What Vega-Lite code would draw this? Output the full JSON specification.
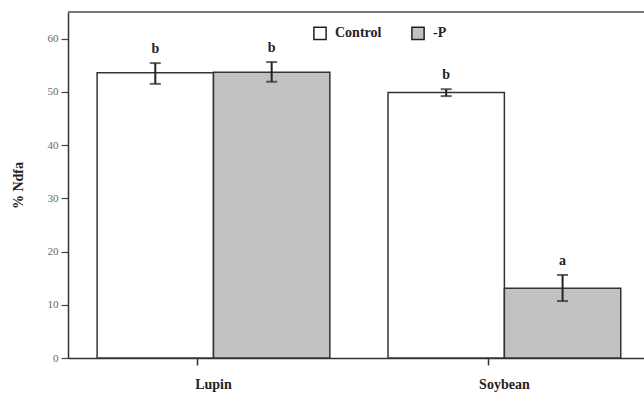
{
  "$schema": "https://vega.github.io/schema/vega-lite/v6.json",
  "autosize": {"type": "none"},
  "width": 576,
  "height": 346,
  "padding": {"left": 68, "top": 12, "right": 0, "bottom": 36},
  "background": "white",
  "config": {
    "view": {"stroke": null},
    "font": "Liberation Serif"
  },
  "datasets": {
    "bars": [
      {"crop": "Lupin", "treatment": "Control", "value": 53.6, "lower": 51.5, "upper": 55.4, "letter": "b"},
      {"crop": "Lupin", "treatment": "-P", "value": 53.7, "lower": 51.9, "upper": 55.6, "letter": "b"},
      {"crop": "Soybean", "treatment": "Control", "value": 49.9, "lower": 49.2, "upper": 50.5, "letter": "b"},
      {"crop": "Soybean", "treatment": "-P", "value": 13.1, "lower": 10.7, "upper": 15.6, "letter": "a"}
    ],
    "frame": [{"top": 65}]
  },
  "layer": [
    {
      "data": {"name": "bars"},
      "encoding": {
        "x": {
          "field": "crop",
          "type": "nominal",
          "sort": ["Lupin", "Soybean"],
          "scale": {"paddingInner": 0.2, "paddingOuter": 0.09, "align": 0.556},
          "axis": {
            "title": null,
            "labelAngle": 0,
            "labelFont": "Liberation Serif",
            "labelFontWeight": "bold",
            "labelFontSize": 14,
            "labelColor": "#222",
            "labelPadding": 12,
            "tickSize": 7,
            "tickColor": "#333",
            "tickWidth": 1.5,
            "domainColor": "#333",
            "domainWidth": 1.5,
            "bandPosition": 0.43
          }
        },
        "xOffset": {"field": "treatment", "type": "nominal", "sort": ["Control", "-P"], "scale": {"paddingInner": 0, "paddingOuter": 0}}
      },
      "layer": [
        {
          "mark": {"type": "bar", "stroke": "#333", "strokeWidth": 1.5},
          "encoding": {
            "y": {
              "field": "value",
              "type": "quantitative",
              "scale": {"domain": [0, 65], "nice": false},
              "axis": {
                "title": "% Ndfa",
                "titleFont": "Liberation Serif",
                "titleFontWeight": "bold",
                "titleFontSize": 14,
                "titleColor": "#222",
                "titlePadding": 22,
                "values": [0, 10, 20, 30, 40, 50, 60],
                "grid": false,
                "labelFont": "Liberation Serif",
                "labelFontSize": 11,
                "labelColor": "#666",
                "labelPadding": 3,
                "tickSize": 7,
                "tickColor": "#444",
                "tickWidth": 1.2,
                "domainColor": "#333",
                "domainWidth": 1.5
              }
            },
            "fill": {
              "field": "treatment",
              "type": "nominal",
              "sort": ["Control", "-P"],
              "scale": {"domain": ["Control", "-P"], "range": ["#ffffff", "#c2c2c2"]},
              "legend": {
                "title": null,
                "orient": "none",
                "direction": "horizontal",
                "legendX": 245,
                "legendY": 14,
                "symbolType": "square",
                "symbolSize": 150,
                "symbolStrokeColor": "#222",
                "symbolStrokeWidth": 1.5,
                "labelFont": "Liberation Serif",
                "labelFontWeight": "bold",
                "labelFontSize": 14,
                "labelColor": "#222",
                "columnPadding": 26,
                "labelOffset": 8
              }
            }
          }
        },
        {
          "mark": {"type": "rule", "stroke": "#222", "strokeWidth": 2},
          "encoding": {
            "y": {"field": "lower", "type": "quantitative"},
            "y2": {"field": "upper"}
          }
        },
        {
          "mark": {"type": "tick", "color": "#222", "thickness": 2, "size": 11, "orient": "horizontal"},
          "encoding": {"y": {"field": "lower", "type": "quantitative"}}
        },
        {
          "mark": {"type": "tick", "color": "#222", "thickness": 2, "size": 11, "orient": "horizontal"},
          "encoding": {"y": {"field": "upper", "type": "quantitative"}}
        },
        {
          "mark": {"type": "text", "font": "Liberation Serif", "fontWeight": "bold", "fontSize": 14, "color": "#222", "dy": -14, "baseline": "middle"},
          "encoding": {
            "y": {"field": "upper", "type": "quantitative"},
            "text": {"field": "letter"}
          }
        }
      ]
    },
    {
      "data": {"name": "frame"},
      "mark": {"type": "rule", "stroke": "#777", "strokeWidth": 2},
      "encoding": {"y": {"field": "top", "type": "quantitative"}}
    }
  ]
}
